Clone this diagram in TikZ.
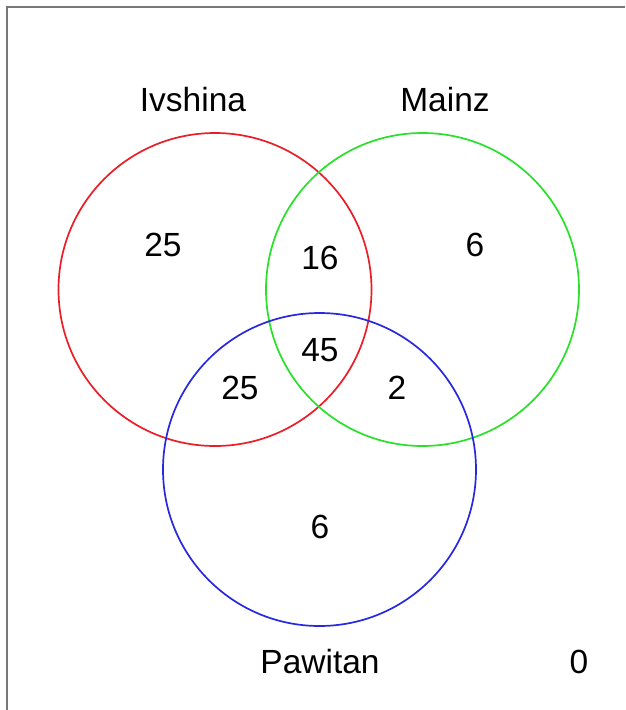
\documentclass[tikz,border=0pt]{standalone}
\usepackage{fontspec}
\setmainfont{Liberation Sans}
\definecolor{vred}{RGB}{235,30,40}
\definecolor{vgreen}{RGB}{40,225,40}
\definecolor{vblue}{RGB}{40,40,225}
\definecolor{frame}{RGB}{120,120,120}
\begin{document}
\begin{tikzpicture}[x=1pt,y=-1pt,
  lbl/.style={font=\fontsize{33.5}{36}\selectfont, inner sep=0pt, anchor=center},
  circ/.style={line width=1.7pt}]
\useasboundingbox (0,0) rectangle (625,710);
\fill[white] (0,0) rectangle (625,710);
\draw[frame, line width=2.2pt] (7,710) -- (7,7) -- (625,7);
\draw[circ, vred] (215,289.5) circle (156.5);
\draw[circ, vgreen] (422.5,289.5) circle (156.5);
\draw[circ, vblue] (319.5,469.5) circle (156.5);
\node[lbl] (ivshina) at (193,100) {Ivshina};
\node[lbl] (mainz) at (445,100) {Mainz};
\node[lbl] (pawitan) at (320,662) {Pawitan};
\node[lbl] (none) at (579,662) {0};
\node[lbl] (a) at (163,245) {25};
\node[lbl] (ab) at (320,258) {16};
\node[lbl] (b) at (475,245) {6};
\node[lbl] (abc) at (320,350) {45};
\node[lbl] (ac) at (240,388) {25};
\node[lbl] (bc) at (397,388) {2};
\node[lbl] (c) at (320,527) {6};
\end{tikzpicture}
\end{document}
